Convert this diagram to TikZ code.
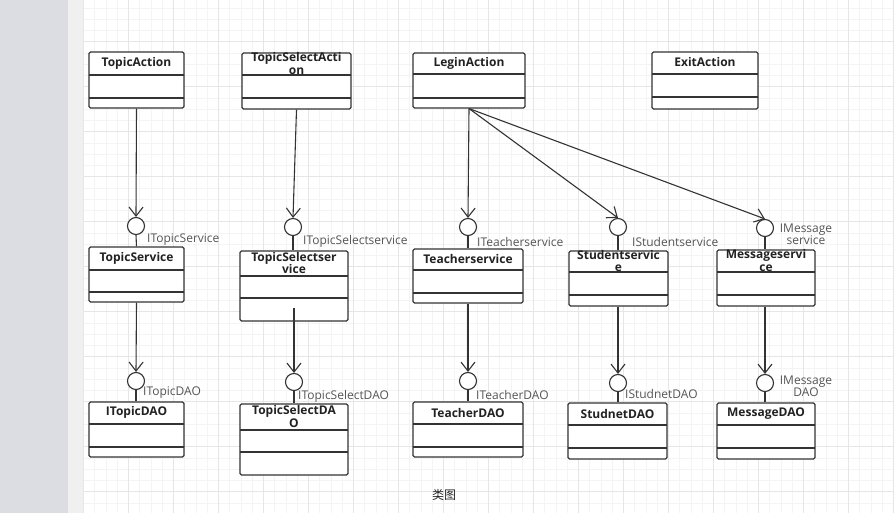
\documentclass[tikz,border=0pt]{standalone}
\usepackage{fontspec}
\setmainfont{Open Sans}
\newfontfamily\cjk{Noto Sans CJK SC}
\usetikzlibrary{arrows.meta,fit}

\definecolor{umlline}{HTML}{333333}
\definecolor{umltext}{HTML}{222222}
\definecolor{labelgray}{HTML}{555555}
\definecolor{sidegray}{HTML}{DCDDE2}
\definecolor{sidelight}{HTML}{F0F0F0}
\definecolor{gridminor}{HTML}{F4F4F4}
\definecolor{gridmajor}{HTML}{E6E6E6}

\begin{document}
\begin{tikzpicture}[x=1pt,y=-1pt,
	classbox/.style={draw=umlline, line width=1.1pt, rounded corners=1.5pt, fill=white, inner sep=0pt},
	classline/.style={draw=umlline, line width=1.1pt},
	classname/.style={text=umltext, align=center, inner sep=0pt, font=\fontsize{12}{12.5}\selectfont\bfseries},
	iface/.style={circle, draw=umlline, line width=1.1pt, fill=white, minimum size=17pt, inner sep=0pt},
	ilabel/.style={text=labelgray, align=center, inner sep=0pt, font=\fontsize{12}{12}\selectfont},
	dep/.style={draw=umlline, line width=1.1pt, -{Straight Barb[length=9pt,width=14pt]}},
	stem/.style={draw=umlline, line width=1.1pt}]

	\useasboundingbox (0,0) rectangle (894,513);

	% paper and grid
	\fill[white] (0,0) rectangle (894,513);
	\foreach \k in {0,...,72} \draw[gridminor, line width=0.6pt] ({83.3+\k*11.25},0) -- ({83.3+\k*11.25},513);
	\foreach \k in {0,...,45} \draw[gridminor, line width=0.6pt] (83,{7.95+\k*11.25}) -- (894,{7.95+\k*11.25});
	\foreach \k in {0,...,18} \draw[gridmajor, line width=0.7pt] ({83.3+\k*45},0) -- ({83.3+\k*45},513);
	\foreach \k in {0,...,10} \draw[gridmajor, line width=0.7pt] (83,{41.7+\k*45}) -- (894,{41.7+\k*45});
	\fill[sidegray] (0,0) rectangle (68,513);
	\fill[sidelight] (68,0) rectangle (83,513);

	% classes: name/left/top/right/bottom/divider/divider/title
	\foreach \n/\l/\t/\r/\b/\p/\q/\txt in {
		ta/89/52/184/108/75/98/{TopicAction},
		tsa/242/53/351/109/75/98/{TopicSelectActi\\on},
		la/413/53/525/108/74/98/{LeginAction},
		ea/652/52/758/109/74/97/{ExitAction},
		ts/89/247/184/302/270/292/{TopicService},
		tss/240/251/348/321/276/298/{TopicSelectser\\vice},
		tes/413/249/523/303/270/293/{Teacherservice},
		ss/569/251/668/306/272/295/{Studentservic\\e},
		ms/717/250/815/306/272/295/{Messageservi\\ce},
		td/89/402/184/457/424/447/{ITopicDAO},
		tsd/240/404/348/475/430/452/{TopicSelectDA\\O},
		ted/413/402/523/457/424/447/{TeacherDAO},
		sd/568/403/667/459/425/448/{StudnetDAO},
		md/717/403/815/459/425/448/{MessageDAO}}
	{
		\node[classbox, fit={(\l,\t) (\r,\b)}] (\n) {};
		\draw[classline] (\l,\p) -- (\r,\p);
		\draw[classline] (\l,\q) -- (\r,\q);
		\node[classname] (\n-name) at ({(\l+\r)/2},{(\t+\p)/2-0.5}) {\txt};
	}

	% provided interfaces
	\foreach \n/\x/\y in {ts-i/136/226, tss-i/293/227, tes-i/468/227, ss-i/618/227, ms-i/765/228,
		td-i/136/381, tsd-i/294/382, ted-i/468/381, sd-i/618/383, md-i/765/383}
		\node[iface] (\n) at (\x,\y) {};

	\draw[stem] (ts-i.south) -- (ts.north);
	\draw[stem] (tss-i.south) -- (tss.north -| tss-i);
	\draw[stem] (tes-i.south) -- (tes.north -| tes-i);
	\draw[stem] (ss-i.south) -- (ss.north -| ss-i);
	\draw[stem] (ms-i.south) -- (ms.north -| ms-i);
	\draw[stem] (td-i.south) -- (td.north -| td-i);
	\draw[stem] (tsd-i.south) -- (tsd.north -| tsd-i);
	\draw[stem] (ted-i.south) -- (ted.north -| ted-i);
	\draw[stem] (sd-i.south) -- (sd.north -| sd-i);
	\draw[stem] (md-i.south) -- (md.north -| md-i);

	\node[ilabel, anchor=west] (ts-l) at (147,240) {ITopicService};
	\node[ilabel, anchor=west] (tss-l) at (303,241) {ITopicSelectservice};
	\node[ilabel, anchor=west] (tes-l) at (477,242) {ITeacherservice};
	\node[ilabel, anchor=west] (ss-l) at (632,242) {IStudentservice};
	\node[ilabel] (ms-l) at (806,234) {IMessage\\service};
	\node[ilabel, anchor=west] (td-l) at (143,393) {ITopicDAO};
	\node[ilabel, anchor=west] (tsd-l) at (298,396) {ITopicSelectDAO};
	\node[ilabel, anchor=west] (ted-l) at (476,395) {ITeacherDAO};
	\node[ilabel, anchor=west] (sd-l) at (625,394) {IStudnetDAO};
	\node[ilabel] (md-l) at (806,386) {IMessage\\DAO};

	% dependencies
	\draw[dep] (ta.south) -- (ts-i.north);
	\draw[dep] (tsa.south) -- (tss-i.north);
	\draw[dep] (la.south) -- (tes-i.north);
	\draw[dep] (la.south) -- (ss-i.north);
	\draw[dep] (la.south) -- (ms-i.north);
	\draw[dep] (ts.south) -- (td-i.north);
	\draw[dep] ([yshift=14pt]tss.south) -- (tsd-i.north);
	\draw[dep] (tes.south -| ted-i) -- (ted-i.north);
	\draw[dep] (ss.south -| sd-i) -- (sd-i.north);
	\draw[dep] (ms.south -| md-i) -- (md-i.north);

	\node[text=umltext, font=\cjk\fontsize{12}{12}\selectfont] (caption) at (444,495) {类图};
\end{tikzpicture}
\end{document}
